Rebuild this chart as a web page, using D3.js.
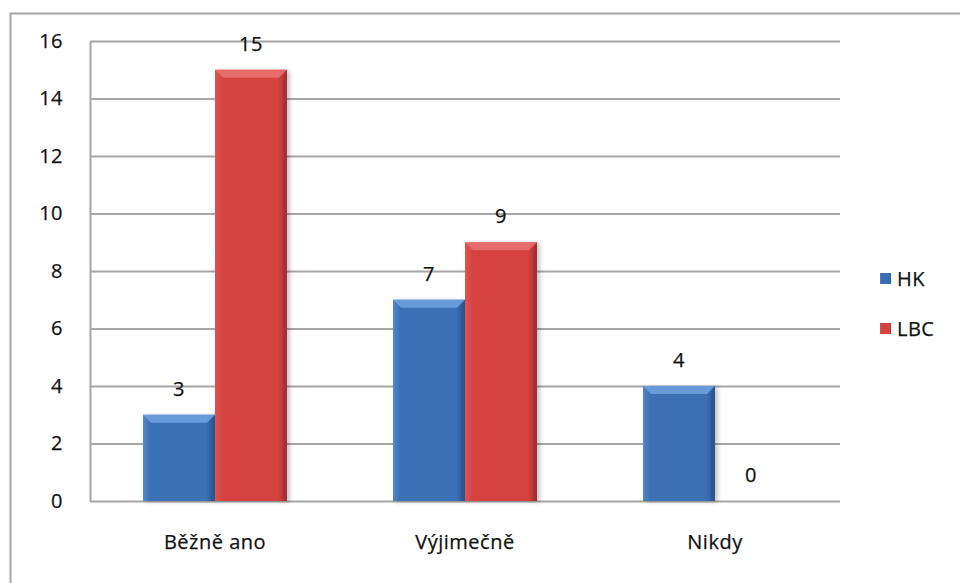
<!DOCTYPE html>
<html><head><meta charset="utf-8">
<script src="https://cdn.jsdelivr.net/npm/d3@7"></script>
<style>body{margin:0;background:#fff;}svg{display:block;font-family:"Open Sans",Lato,sans-serif;}</style>
</head><body>
<svg id="chart" width="960" height="583"></svg>
<script>
const categories = ["Běžně ano", "Výjimečně", "Nikdy"];
const seriesNames = ["HK", "LBC"];
const hkValues = [3, 7, 4];
const lbcValues = [15, 9, 0];
const yTicks = [0, 2, 4, 6, 8, 10, 12, 14, 16];

const FS = 20;
const FONT = "'Open Sans', sans-serif";
const svg = d3.select("#chart");
const margin = {left: 90, right: 120, top: 41, bottom: 82};

// shared label styling
function labelStyle(sel) {
  sel.attr("font-size", FS).attr("font-family", FONT).attr("fill", "#111")
    .attr("letter-spacing", "0.5px").attr("stroke", "#111").attr("stroke-width", 0.25);
}

// chart frame
svg.append("rect").attr("x", 10.5).attr("y", 13.5).attr("width", 960).attr("height", 600)
  .attr("fill", "#fff").attr("stroke", "#a6a6a6").attr("stroke-width", 2);

const x0 = d3.scaleBand().domain(categories).range([margin.left, 840]).paddingInner(0).paddingOuter(0);
const x1 = d3.scaleBand().domain(seriesNames).range([0, 144]);
const y = d3.scaleLinear().domain([0, 16]).range([501, 41]);

const defs = svg.append("defs");
const palette = {
  HK: {base: "#3b6fb4", light: "#5289cc", dark: "#2a548c", top: "#74a6e4"},
  LBC: {base: "#d54340", light: "#df5350", dark: "#9f2f2d", top: "#ea7573"}
};
Object.entries(palette).forEach(([k, c]) => {
  const g = defs.append("linearGradient").attr("id", "g" + k).attr("x1", 0).attr("x2", 1).attr("y1", 0).attr("y2", 0);
  g.append("stop").attr("offset", 0).attr("stop-color", c.light);
  g.append("stop").attr("offset", 0.1).attr("stop-color", c.base);
  g.append("stop").attr("offset", 0.88).attr("stop-color", c.base);
  g.append("stop").attr("offset", 1).attr("stop-color", c.dark);
});
const sh = defs.append("filter").attr("id", "shadow").attr("x", -0.2).attr("y", -0.2).attr("width", 1.5).attr("height", 1.4);
sh.append("feDropShadow").attr("dx", 3).attr("dy", 1).attr("stdDeviation", 2).attr("flood-color", "#000").attr("flood-opacity", 0.22);

// gridlines
svg.append("g").selectAll("line").data(yTicks).join("line")
  .attr("x1", margin.left).attr("x2", 840)
  .attr("y1", d => y(d) + 0.5).attr("y2", d => y(d) + 0.5)
  .attr("stroke", "#a6a6a6").attr("stroke-width", 2);

// y axis
const yAxis = svg.append("g").attr("transform", `translate(${margin.left},0)`)
  .call(d3.axisLeft(y).tickValues(yTicks).tickSize(0).tickPadding(27));
yAxis.select(".domain").attr("stroke", "#a6a6a6").attr("stroke-width", 2);
yAxis.selectAll("text").call(labelStyle);

// x axis labels
const xAxis = svg.append("g").attr("transform", "translate(0,501)")
  .call(d3.axisBottom(x0).tickSize(0).tickPadding(34));
xAxis.select(".domain").remove();
xAxis.selectAll("text").call(labelStyle);

const rows = categories.map((c, i) => ({cat: c, vals: [
  {s: "HK", v: hkValues[i]}, {s: "LBC", v: lbcValues[i]}]}));

const groups = svg.append("g").selectAll("g").data(rows).join("g")
  .attr("transform", d => `translate(${x0(d.cat) + (x0.bandwidth() - 144) / 2},0)`);

groups.each(function(d) {
  const g = d3.select(this);
  d.vals.forEach(b => {
    const bx = x1(b.s), bw = x1.bandwidth(), by = y(b.v), bh = y(0) - y(b.v);
    if (bh > 0) {
      g.append("rect").attr("x", bx).attr("y", by).attr("width", bw).attr("height", bh)
        .attr("fill", `url(#g${b.s})`).attr("filter", "url(#shadow)");
      const bev = Math.min(8, bh / 2);
      g.append("path")
        .attr("d", `M${bx},${by}L${bx + bw},${by}L${bx + bw - bev},${by + bev}L${bx + bev},${by + bev}Z`)
        .attr("fill", palette[b.s].top).attr("opacity", 0.8);
      g.append("path")
        .attr("d", `M${bx + bw},${by}L${bx + bw},${by + bh}L${bx + bw - 4},${by + bh}L${bx + bw - 4},${by + bev}Z`)
        .attr("fill", palette[b.s].dark).attr("opacity", 0.5);
    }
    g.append("text").attr("x", bx + bw / 2).attr("y", by - 26).attr("dy", "0.35em")
      .attr("text-anchor", "middle").call(labelStyle).text(b.v);
  });
});

// legend
const legend = svg.append("g").selectAll("g").data(seriesNames).join("g")
  .attr("transform", (d, i) => `translate(880,${273 + i * 50})`);
legend.append("rect").attr("width", 11).attr("height", 11).attr("fill", d => `url(#g${d})`);
legend.append("rect").attr("x", 2).attr("y", 2).attr("width", 7).attr("height", 7).attr("fill", d => palette[d].base);
legend.append("text").attr("x", 17).attr("y", 6).attr("dy", "0.35em").call(labelStyle).text(d => d);
</script>
</body></html>
